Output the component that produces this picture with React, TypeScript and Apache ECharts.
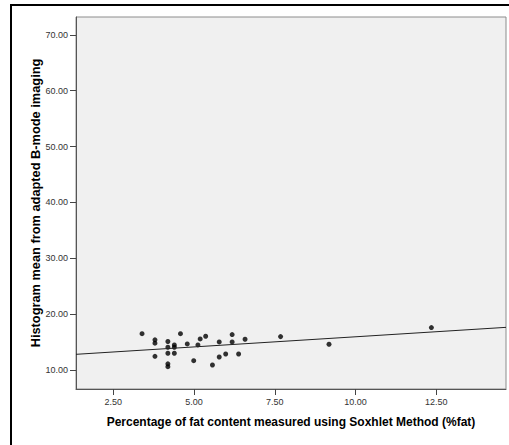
import React, { useEffect, useRef } from "react";
import * as echarts from "echarts";

const fatPercent = [3.39, 3.79, 3.79, 3.79, 4.19, 4.19, 4.19, 4.19, 4.19, 4.39, 4.39, 4.39, 4.58, 4.79, 4.99, 5.12, 5.19, 5.36, 5.57, 5.78, 5.78, 5.98, 6.18, 6.18, 6.38, 6.58, 7.68, 9.18, 12.35];
const histogramMean = [16.5, 15.4, 14.8, 12.45, 15.1, 14.07, 13.0, 11.1, 10.6, 14.49, 14.07, 13.0, 16.5, 14.67, 11.67, 14.49, 15.56, 16.05, 10.9, 15.03, 12.33, 12.87, 16.34, 15.03, 12.87, 15.5, 15.98, 14.61, 17.6];

const xTicks = [2.5, 5, 7.5, 10, 12.5];
const yTicks = [10, 20, 30, 40, 50, 60, 70];
const xRange = [1.345, 14.66];
const yRange = [6.6, 73.2];
const fitIntercept = 12.32;
const fitSlope = 0.3626;

const xTitle = "Percentage of fat content measured using Soxhlet Method (%fat)";
const yTitle = "Histogram mean from adapted B-mode imaging";

export default function App() {
  const ref = useRef<HTMLDivElement>(null);
  useEffect(() => {
    if (!ref.current) return;
    const chart = echarts.init(ref.current, null, { renderer: "svg" });
    const points = fatPercent.map((x, i) => [x, histogramMean[i]]);
    const fitLine = xRange.map((x) => [x, fitIntercept + fitSlope * x]);
    chart.setOption({
      animation: false,
      backgroundColor: "#ffffff",
      textStyle: { fontFamily: "Liberation Sans, Arial, sans-serif" },
      grid: {
        left: 76,
        right: 3,
        top: 17,
        bottom: 56,
        show: true,
        backgroundColor: "#f0f0f0",
        borderColor: "#8c8c8c",
        borderWidth: 1,
      },
      graphic: [
        {
          type: "rect",
          shape: { x: 11, y: 5, width: 700, height: 700 },
          style: { fill: "none", stroke: "#000000", lineWidth: 2 },
          silent: true,
          z: 100,
        },
      ],
      xAxis: {
        type: "value",
        min: xRange[0],
        max: xRange[1],
        name: xTitle,
        nameLocation: "middle",
        nameGap: 27,
        nameMoveOverlap: false,
        nameTextStyle: { fontSize: 12, fontWeight: "bold", color: "#000" },
        splitLine: { show: false },
        axisLine: { show: true, lineStyle: { color: "#555", width: 1 } },
        axisTick: { show: true, length: 6, customValues: xTicks, lineStyle: { color: "#444" } },
        axisLabel: {
          customValues: xTicks,
          margin: 8,
          fontSize: 9,
          color: "#333",
          formatter: (v: number) => v.toFixed(2),
        },
      },
      yAxis: {
        type: "value",
        min: yRange[0],
        max: yRange[1],
        name: yTitle,
        nameLocation: "middle",
        nameGap: 34,
        nameMoveOverlap: false,
        nameTextStyle: { fontSize: 12.8, fontWeight: "bold", color: "#000" },
        splitLine: { show: false },
        axisLine: { show: true, lineStyle: { color: "#555", width: 1 } },
        axisTick: { show: true, length: 6, customValues: yTicks, lineStyle: { color: "#444" } },
        axisLabel: {
          customValues: yTicks,
          margin: 8,
          fontSize: 9,
          color: "#333",
          formatter: (v: number) => v.toFixed(2),
        },
      },
      series: [
        {
          type: "line",
          data: fitLine,
          symbol: "none",
          lineStyle: { color: "#222", width: 1 },
          silent: true,
        },
        {
          type: "scatter",
          data: points,
          symbol: "circle",
          symbolSize: 5,
          itemStyle: { color: "#000" },
        },
      ],
    });
    return () => chart.dispose();
  }, []);
  return (
    <div
      ref={ref}
      style={{ position: "fixed", left: 0, top: 0, width: 509, height: 445 }}
    />
  );
}
